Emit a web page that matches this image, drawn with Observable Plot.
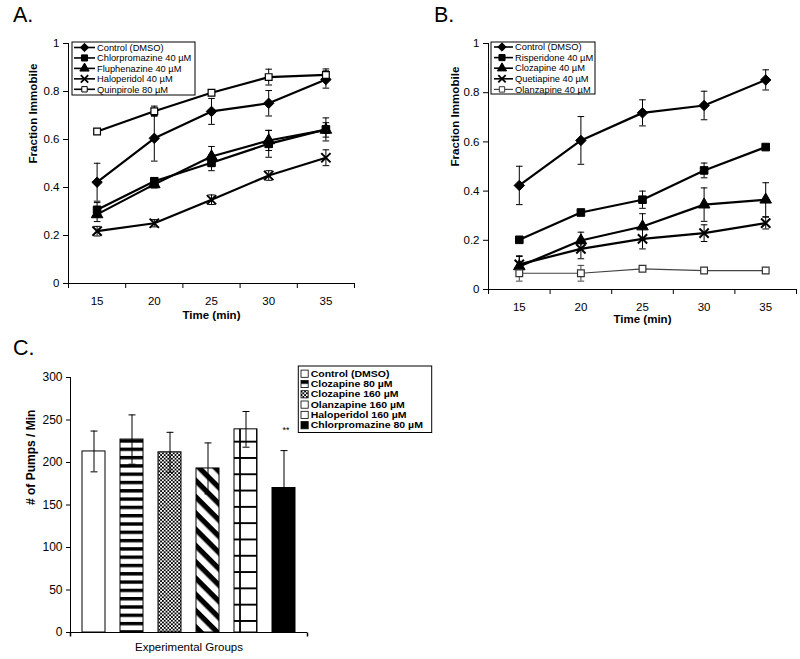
<!DOCTYPE html>
<html><head><meta charset="utf-8">
<script src="https://cdn.jsdelivr.net/npm/d3@7"></script>
<script src="https://cdn.jsdelivr.net/npm/@observablehq/plot@0.6"></script>
<style>
body{margin:0;background:#fff;}
#fig{position:relative;width:800px;height:659px;overflow:hidden;font-family:"Liberation Sans",Arial,sans-serif;background:#fff;}
#fig > svg{position:absolute;}
</style></head><body><div id="fig"></div>
<script>
// ---------- data ----------
const timesMin = [15, 20, 25, 30, 35];
const timeBoundaries = [12.5, 17.5, 22.5, 27.5, 32.5, 37.5];
const fractionTicks = [0, 0.2, 0.4, 0.6, 0.8, 1];

const seriesA = ["Control (DMSO)", "Chlorpromazine 40 µM", "Fluphenazine 40 µM", "Haloperidol 40 µM", "Quinpirole 80 µM"];
const controlA = [0.422, 0.605, 0.717, 0.751, 0.85];
const controlAErr = [0.079, 0.095, 0.054, 0.053, 0.036];
const chlorA = [0.307, 0.426, 0.503, 0.582, 0.642];
const chlorAErr = [0.03, 0.015, 0.033, 0.056, 0.048];
const fluphA = [0.288, 0.413, 0.529, 0.596, 0.64];
const fluphAErr = [0.03, 0.015, 0.042, 0.042, 0.03];
const haloA = [0.218, 0.251, 0.349, 0.45, 0.524];
const haloAErr = [0.02, 0.015, 0.02, 0.02, 0.033];
const quinA = [0.633, 0.718, 0.795, 0.86, 0.869];
const quinAErr = [0.01, 0.021, 0.012, 0.033, 0.025];

const seriesB = ["Control (DMSO)", "Risperidone 40 µM", "Clozapine 40 µM", "Quetiapine 40 µM", "Olanzapine 40 µM"];
const controlB = [0.423, 0.606, 0.718, 0.748, 0.852];
const controlBErr = [0.078, 0.097, 0.053, 0.058, 0.041];
const risB = [0.202, 0.313, 0.365, 0.484, 0.579];
const risBErr = [0.01, 0.006, 0.035, 0.03, 0.01];
const clozB = [0.094, 0.199, 0.256, 0.345, 0.365];
const clozBErr = [0.04, 0.034, 0.052, 0.068, 0.069];
const quetB = [0.102, 0.165, 0.206, 0.229, 0.27];
const quetBErr = [0.035, 0.04, 0.041, 0.034, 0.024];
const olanB = [0.066, 0.066, 0.084, 0.077, 0.077];
const olanBErr = [0.032, 0.032, 0.01, 0.01, 0.01];

const groupsC = ["Control (DMSO)", "Clozapine 80 µM", "Clozapine 160 µM", "Olanzapine 160 µM", "Haloperidol 160 µM", "Chlorpromazine 80 µM"];
const pumpsC = [213, 227, 212, 193, 239, 170];
const pumpsErrC = [24, 29, 23.5, 30, 21, 44];
const signifC = ["", "", "", "", "", "**"];
const pumpTicks = [0, 50, 100, 150, 200, 250, 300];

// ---------- styles ----------
const font = '"Liberation Sans", Arial, sans-serif';
const stylesA = [
  {symbol: "diamond2", r: 4.7, fill: "black", stroke: "black", sw: 1, line: "black", lw: 2.2},
  {symbol: "square", r: 4.3, fill: "black", stroke: "black", sw: 1, line: "black", lw: 2.2},
  {symbol: "triangle", r: 4.3, fill: "black", stroke: "black", sw: 1, line: "black", lw: 2.2},
  {symbol: "times", r: 4.3, fill: "none", stroke: "black", sw: 2, line: "black", lw: 2.2},
  {symbol: "square", r: 3.8, fill: "white", stroke: "black", sw: 1.2, line: "black", lw: 2.2}
];
const stylesB = [
  {symbol: "diamond2", r: 4.7, fill: "black", stroke: "black", sw: 1, line: "black", lw: 2.2},
  {symbol: "square", r: 4.3, fill: "black", stroke: "black", sw: 1, line: "black", lw: 2.2},
  {symbol: "triangle", r: 4.3, fill: "black", stroke: "black", sw: 1, line: "black", lw: 2.2},
  {symbol: "times", r: 4.3, fill: "none", stroke: "black", sw: 2, line: "black", lw: 2.2},
  {symbol: "square", r: 3.8, fill: "white", stroke: "#333", sw: 1.2, line: "#444", lw: 1.2}
];
const fillsC = ["white", "url(#pHStripe)", "url(#pCheck)", "url(#pDiag)", "url(#pGrid)", "black"];
const legendFillsC = ["white", "url(#pHStripeL)", "url(#pCheck)", "white", "white", "black"];

const capSymbol = {draw(ctx, size) { const r = Math.sqrt(size / Math.PI); ctx.moveTo(-r, 0); ctx.lineTo(r, 0); }};
const vTick = {draw(ctx, size) { ctx.moveTo(0, 0); ctx.lineTo(0, 4); }};

const fig = document.getElementById("fig");

// pattern defs
const defs = d3.select(fig).append("svg").attr("width", 0).attr("height", 0).style("position", "absolute").append("defs");
function stripePattern(id, y) {
  const p = defs.append("pattern").attr("id", id).attr("patternUnits", "userSpaceOnUse").attr("width", 8).attr("height", 8.3).attr("y", y);
  p.append("rect").attr("width", 8).attr("height", 8.3).attr("fill", "white");
  p.append("rect").attr("width", 8).attr("height", 3.4).attr("fill", "black");
}
stripePattern("pHStripe", 109.3);
stripePattern("pHStripeL", 380.5);
{
  const p = defs.append("pattern").attr("id", "pCheck").attr("patternUnits", "userSpaceOnUse").attr("width", 3.6).attr("height", 3.6);
  p.append("rect").attr("width", 3.6).attr("height", 3.6).attr("fill", "white");
  p.append("rect").attr("width", 1.8).attr("height", 1.8).attr("fill", "black");
  p.append("rect").attr("x", 1.8).attr("y", 1.8).attr("width", 1.8).attr("height", 1.8).attr("fill", "black");
}
{
  const p = defs.append("pattern").attr("id", "pDiag").attr("patternUnits", "userSpaceOnUse").attr("width", 11.5).attr("height", 11.5).attr("patternTransform", "rotate(45)");
  p.append("rect").attr("width", 11.5).attr("height", 11.5).attr("fill", "white");
  p.append("rect").attr("width", 11.5).attr("height", 5.2).attr("fill", "black");
}
{
  const p = defs.append("pattern").attr("id", "pGrid").attr("patternUnits", "userSpaceOnUse").attr("width", 17).attr("height", 16.3).attr("x", 239).attr("y", 110.7);
  p.append("rect").attr("width", 17).attr("height", 16.3).attr("fill", "white");
  p.append("path").attr("d", "M0,1H17M1,0V16.3").attr("stroke", "black").attr("stroke-width", 1.8);
}

// ---------- line panels ----------
function linePanel(cfg) {
  const marks = [];
  const perSeries = cfg.series.map((s, i) => timesMin.map((t, j) => ({series: s, time: t, value: cfg.values[i][j], err: cfg.errs[i][j]})));
  perSeries.forEach((d, i) => marks.push(Plot.line(d, {x: "time", y: "value", stroke: cfg.styles[i].line, strokeWidth: cfg.styles[i].lw})));
  perSeries.forEach((d, i) => {
    const c = cfg.styles[i].line;
    marks.push(Plot.ruleX(d, {x: "time", y1: r => r.value - r.err, y2: r => r.value + r.err, stroke: c, strokeWidth: 1}));
    marks.push(Plot.dot(d, {x: "time", y: r => r.value + r.err, symbol: capSymbol, r: 3.3, fill: "none", stroke: c, strokeWidth: 1}));
    marks.push(Plot.dot(d, {x: "time", y: r => r.value - r.err, symbol: capSymbol, r: 3.3, fill: "none", stroke: c, strokeWidth: 1}));
  });
  perSeries.forEach((d, i) => {
    const st = cfg.styles[i];
    marks.push(Plot.dot(d, {x: "time", y: "value", symbol: st.symbol, r: st.r, fill: st.fill, stroke: st.stroke, strokeWidth: st.sw}));
  });
  marks.push(
    Plot.ruleX([timeBoundaries[0]], {stroke: "black", strokeWidth: 1}),
    Plot.ruleY([0], {stroke: "black", strokeWidth: 1}),
    Plot.axisY({ticks: fractionTicks, tickSize: 5, tickPadding: 4, tickFormat: d => String(d), label: null}),
    Plot.axisX({ticks: timeBoundaries, tickSize: 5, tickFormat: () => "", label: null}),
    Plot.axisX({ticks: timesMin, tickSize: 0, tickPadding: cfg.tickPad, tickFormat: d => String(d), label: null}),
    Plot.text(["Fraction Immobile"], {text: d => d, frameAnchor: "left", rotate: -90, dx: cfg.ylabDx, fontWeight: "bold", fontSize: 11.6}),
    Plot.text(["Time (min)"], {text: d => d, frameAnchor: "bottom", dy: cfg.xlabDy, fontWeight: "bold", fontSize: 11.5})
  );
  const svg = Plot.plot({
    width: cfg.width, height: cfg.height,
    marginLeft: cfg.ml, marginRight: cfg.mr, marginTop: cfg.mt, marginBottom: cfg.mb,
    x: {type: "linear", domain: [timeBoundaries[0], timeBoundaries[timeBoundaries.length - 1]], axis: null},
    y: {domain: [0, 1], axis: null},
    style: {fontFamily: font, fontSize: "11.5px", background: "transparent", color: "black", overflow: "visible"},
    marks
  });
  svg.style.left = cfg.left + "px";
  svg.style.top = cfg.top + "px";
  fig.appendChild(svg);
}

linePanel({series: seriesA, values: [controlA, chlorA, fluphA, haloA, quinA], errs: [controlAErr, chlorAErr, fluphAErr, haloAErr, quinAErr],
  styles: stylesA, left: 0, top: 0, width: 400, height: 330, ml: 68, mr: 46, mt: 43, mb: 47, ylabDx: -35, xlabDy: 35, tickPad: 13.5});
linePanel({series: seriesB, values: [controlB, risB, clozB, quetB, olanB], errs: [controlBErr, risBErr, clozBErr, quetBErr, olanBErr],
  styles: stylesB, left: 400, top: 0, width: 400, height: 335, ml: 88, mr: 4, mt: 43, mb: 46, ylabDx: -33, xlabDy: 33, tickPad: 13.5});

// ---------- bar panel ----------
{
  const dataC = groupsC.map((g, i) => ({group: g, pumps: pumpsC[i], err: pumpsErrC[i], sig: signifC[i], fill: fillsC[i]}));
  const svg = Plot.plot({
    width: 560, height: 329, marginLeft: 70, marginRight: 253, marginTop: 47, marginBottom: 27,
    x: {domain: groupsC, paddingInner: 0.39, paddingOuter: 0.305, axis: null},
    y: {domain: [0, 300], axis: null},
    color: {type: "identity"},
    style: {fontFamily: font, fontSize: "12px", background: "transparent", color: "black", overflow: "visible"},
    marks: [
      Plot.barY(dataC, {x: "group", y: "pumps", fill: "fill", stroke: "black", strokeWidth: 1}),
      Plot.ruleX(dataC, {x: "group", y1: d => d.pumps - d.err, y2: d => d.pumps + d.err, stroke: "black", strokeWidth: 1}),
      Plot.dot(dataC, {x: "group", y: d => d.pumps + d.err, symbol: capSymbol, r: 3.5, fill: "none", stroke: "black", strokeWidth: 1}),
      Plot.dot(dataC, {x: "group", y: d => d.pumps - d.err, symbol: capSymbol, r: 3.5, fill: "none", stroke: "black", strokeWidth: 1}),
      Plot.text(dataC, {x: "group", y: d => d.pumps + d.err, text: "sig", dy: -20, dx: 2, fontSize: 9}),
      Plot.frame({anchor: "left", stroke: "black"}),
      Plot.ruleY([0], {stroke: "black"}),
      Plot.dot([0], {frameAnchor: "bottom-right", symbol: vTick, r: 2, fill: "none", stroke: "black"}),
      Plot.dot([0], {frameAnchor: "bottom-left", symbol: vTick, r: 2, fill: "none", stroke: "black"}),
      Plot.axisY({ticks: pumpTicks, tickSize: 4, tickPadding: 4, label: null}),
      Plot.text(["# of Pumps / Min"], {text: d => d, frameAnchor: "left", rotate: -90, dx: -39, fontWeight: "bold", fontSize: 12}),
      Plot.text(["Experimental Groups"], {text: d => d, frameAnchor: "bottom", dy: 18, fontSize: 11.5})
    ]
  });
  svg.style.left = "0px";
  svg.style.top = "330px";
  fig.appendChild(svg);
}

// ---------- overlay: panel letters and legends ----------
const ov = d3.select(fig).append("svg").attr("width", 800).attr("height", 659).style("left", "0px").style("top", "0px").style("position", "absolute")
  .attr("font-family", font);
[["A.", 13, 22], ["B.", 434, 22], ["C.", 13, 355]].forEach(([t, x, y]) =>
  ov.append("text").attr("x", x).attr("y", y).attr("font-size", 21.5).text(t));

function lineLegend(series, styles, box, lineX1, lineX2, markX, textX, rowY0, rowStep) {
  ov.append("rect").attr("x", box[0]).attr("y", box[1]).attr("width", box[2]).attr("height", box[3]).attr("fill", "white").attr("stroke", "black").attr("stroke-width", 1);
  series.forEach((s, i) => {
    const st = styles[i];
    const y = rowY0 + i * rowStep;
    ov.append("line").attr("x1", lineX1).attr("x2", lineX2).attr("y1", y).attr("y2", y).attr("stroke", st.line).attr("stroke-width", Math.min(st.lw, 1.6));
    const symMap = {diamond2: d3.symbolDiamond2, square: d3.symbolSquare, triangle: d3.symbolTriangle, times: d3.symbolTimes};
    const rr = st.r * 0.8;
    ov.append("path").attr("d", d3.symbol(symMap[st.symbol], rr * rr * Math.PI)())
      .attr("transform", `translate(${markX},${y})`).attr("fill", st.fill).attr("stroke", st.stroke).attr("stroke-width", st.symbol === "times" ? 1.8 : 1);
    ov.append("text").attr("x", textX).attr("y", y).attr("dy", "0.35em").attr("font-size", 9.3).text(s);
  });
}
lineLegend(seriesA, stylesA, [72, 42, 123, 53], 74, 95, 84.5, 97, 47.5, 10.45);
lineLegend(seriesB, stylesB, [491, 42, 104, 52], 494, 513, 502, 515, 47, 10.6);

ov.append("rect").attr("x", 298.3).attr("y", 366).attr("width", 133.4).attr("height", 66.5).attr("fill", "white").attr("stroke", "black").attr("stroke-width", 1);
groupsC.forEach((g, i) => {
  const y = 373.7 + i * 10.3;
  ov.append("rect").attr("x", 301).attr("y", y - 3.6).attr("width", 7.2).attr("height", 7.2).attr("fill", legendFillsC[i]).attr("stroke", "black").attr("stroke-width", 0.8);
  const t = ov.append("text").attr("x", 310.7).attr("y", y).attr("dy", "0.35em").attr("font-size", 9).attr("font-weight", "bold").text(g);
  const natural = t.node().getComputedTextLength();
  t.attr("textLength", natural * 10.5 / 9).attr("lengthAdjust", "spacingAndGlyphs");
});
</script>
</body></html>
